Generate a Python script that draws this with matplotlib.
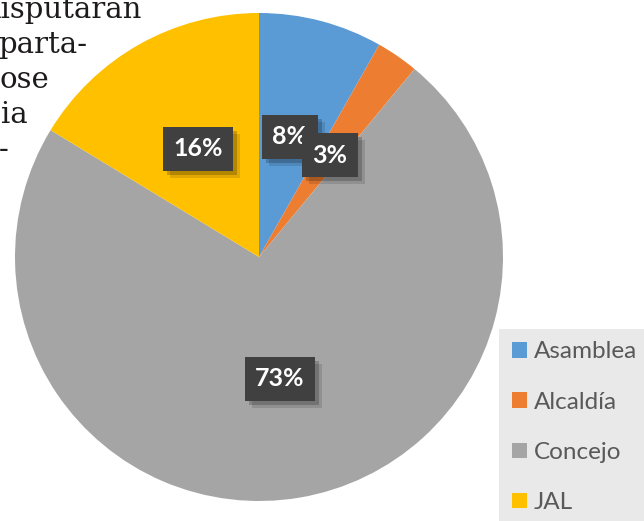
import matplotlib
matplotlib.use("Agg")
import matplotlib.pyplot as plt
from matplotlib.patches import Patch, Rectangle
import matplotlib.patheffects as pe

# data
categories = ["Asamblea", "Alcaldía", "Concejo", "JAL"]
values = [8.2, 2.8, 72.7, 16.3]
colors = ["#5B9BD5", "#ED7D31", "#A5A5A5", "#FFC000"]

# cut-off paragraph text at the top left
side_text = ["disputaran", "parta-", "ose", "ia", "-"]
side_x = [-18, -2, -1, 1, -1]

# label centers (pie data coords)
label_pos = [(0.127, 0.492), (0.291, 0.418), (0.086, -0.500), (-0.250, 0.443)]

W, H = 644, 521
fig = plt.figure(figsize=(W / 100, H / 100), dpi=100)

# paragraph fragments
for i, (t, x) in enumerate(zip(side_text, side_x)):
    fig.text(x / W, 1 - (18 + 35 * i) / H, t, family="DejaVu Serif",
             fontsize=21, color="#1e1b1c", ha="left", va="baseline")

cx, cy, r = 259, 257, 244
ax = fig.add_axes([(cx - r) / W, (H - cy - r) / H, 2 * r / W, 2 * r / H])
wedges, _ = ax.pie(values, colors=colors, startangle=90, counterclock=False,
                   radius=1, wedgeprops=dict(linewidth=0))
ax.set_xlim(-1, 1)
ax.set_ylim(-1, 1)
ax.axis("off")

for v, (x, y) in zip(values, label_pos):
    t = ax.text(x, y, f"{v:.0f}%", ha="center", va="center", color="white",
                family="Lato", fontweight="bold", fontsize=18,
                bbox=dict(boxstyle="square,pad=0.42", facecolor="#404040",
                          edgecolor="none"))
    # soft drop shadow
    t.get_bbox_patch().set_path_effects([
        pe.SimplePatchShadow(offset=(5, -5), shadow_rgbFace="#000000", alpha=0.12),
        pe.SimplePatchShadow(offset=(3, -3), shadow_rgbFace="#000000", alpha=0.2),
        pe.Normal()])

# legend panel
fig.patches.append(Rectangle((499 / W, 0), 1, (H - 329) / H, transform=fig.transFigure,
                             facecolor="#e9e9e9", edgecolor="none", zorder=0))
handles = [Patch(facecolor=c, edgecolor="none") for c in colors]
leg = fig.legend(handles, categories, loc="upper left",
                 bbox_to_anchor=(512 / W, 1 - 341.5 / H), frameon=False,
                 prop=dict(family="Lato", size=17.5), labelcolor="#595959",
                 handlelength=0.6, handleheight=0.6, handletextpad=0.3,
                 labelspacing=1.2, borderpad=0, borderaxespad=0)

fig.savefig("out.png", dpi=100)
